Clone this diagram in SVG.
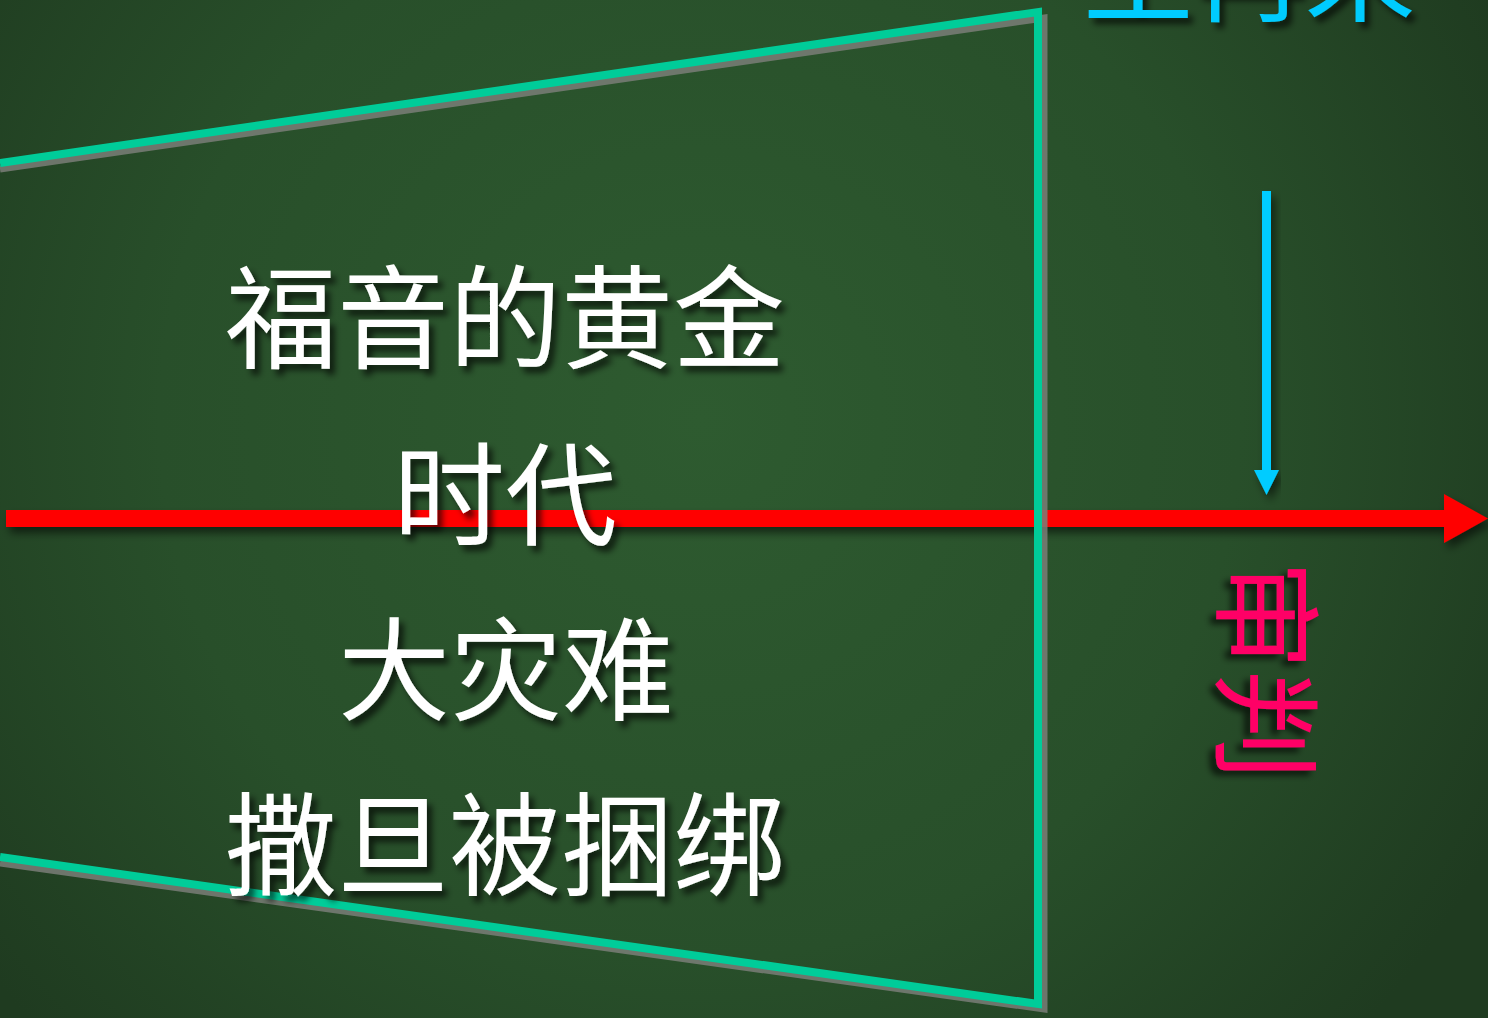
<svg xmlns="http://www.w3.org/2000/svg" width="1488" height="1018" viewBox="0 0 1488 1018">
<defs>
<radialGradient id="bg" cx="700" cy="420" r="900" gradientUnits="userSpaceOnUse">
<stop offset="0" stop-color="#2E5B30"/>
<stop offset="0.6" stop-color="#284F2A"/>
<stop offset="1" stop-color="#1F3B20"/>
</radialGradient>
<filter id="sh" x="-10%" y="-10%" width="130%" height="140%">
<feDropShadow dx="5" dy="6" stdDeviation="3" flood-color="#000" flood-opacity="0.65"/>
</filter>
<filter id="shs" x="-5%" y="-50%" width="110%" height="300%">
<feDropShadow dx="4" dy="6" stdDeviation="4" flood-color="#000" flood-opacity="0.55"/>
</filter>
<style>
.t{font-family:"Noto Sans CJK SC","Noto Sans CJK JP",sans-serif;text-anchor:middle;filter:url(#sh)}
.w{fill:#FFFFFF;font-size:112px}
.edge{fill:none;stroke:#00CC99;stroke-width:8;stroke-linejoin:miter}
.edgesh{fill:none;stroke:#7A7E78;stroke-opacity:0.85;stroke-width:7;stroke-linejoin:miter}
</style>
</defs>
<rect width="1488" height="1018" fill="url(#bg)"/>
<g id="connectors">
<g id="red-arrow" filter="url(#shs)">
<rect x="6" y="510" width="1440" height="17" fill="#FF0000"/>
<polygon points="1444,494 1488,518.5 1444,543" fill="#FF0000"/>
</g>
<g id="cyan-arrow" filter="url(#shs)">
<rect x="1262" y="191" width="9" height="282" fill="#00CCFF"/>
<polygon points="1254,470 1279,470 1266.5,495" fill="#00CCFF"/>
</g>
</g>
<g id="trapezoid">
<polyline class="edgesh" points="0,169 1044,18 1044,1009 0,863"/>
<polyline class="edge" points="0,163 1038,12 1038,1004 0,857"/>
</g>
<g id="node-gospel"><text class="t w" x="505" y="360">福音的黄金</text></g>
<g id="node-era"><text class="t w" x="505" y="537">时代</text></g>
<g id="node-tribulation"><text class="t w" x="506" y="712">大灾难</text></g>
<g id="node-satan"><text class="t w" x="505" y="887">撒旦被捆绑</text></g>
<g id="node-return"><text class="t" x="1249" y="13" font-size="111" fill="#00CCFF">主再来</text></g>
<g id="node-judgment"><text class="t" x="1267" y="712" font-size="110" fill="#FF0066" transform="rotate(90 1267 670)">审判</text></g>
</svg>
